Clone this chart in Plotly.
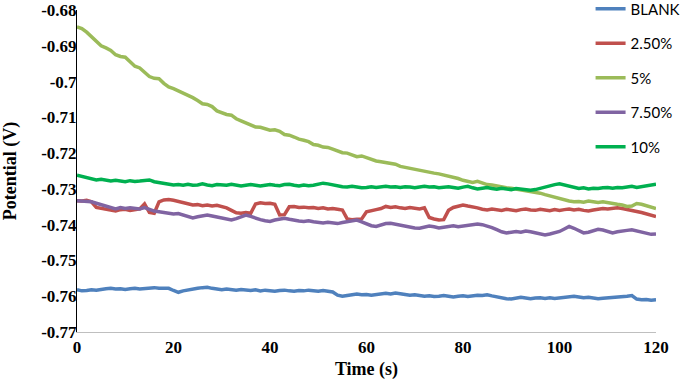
import plotly.graph_objects as go

time_s = list(range(0, 121))

blank = [-0.7582, -0.7585, -0.7584, -0.7582, -0.7583, -0.7580, -0.7579, -0.7578, -0.7580, -0.7579,
         -0.7581, -0.7579, -0.7578, -0.7580, -0.7579, -0.7577, -0.7576, -0.7578, -0.7577, -0.7578,
         -0.7584, -0.7589, -0.7585, -0.7582, -0.7580, -0.7578, -0.7576, -0.7575, -0.7578, -0.7580,
         -0.7582, -0.7580, -0.7582, -0.7583, -0.7581, -0.7583, -0.7584, -0.7582, -0.7585, -0.7583,
         -0.7584, -0.7586, -0.7584, -0.7583, -0.7585, -0.7586, -0.7584, -0.7585, -0.7583, -0.7585,
         -0.7586, -0.7584, -0.7586, -0.7588, -0.7597, -0.7600, -0.7598, -0.7596, -0.7594, -0.7596,
         -0.7595, -0.7597, -0.7596, -0.7594, -0.7592, -0.7594, -0.7591, -0.7593, -0.7595, -0.7597,
         -0.7596, -0.7598, -0.7600, -0.7599, -0.7601, -0.7600, -0.7598, -0.7600, -0.7602, -0.7600,
         -0.7599, -0.7601, -0.7599, -0.7597, -0.7598, -0.7596, -0.7599, -0.7602, -0.7605, -0.7607,
         -0.7608, -0.7605, -0.7603, -0.7605, -0.7607, -0.7605, -0.7604, -0.7606, -0.7604, -0.7606,
         -0.7605, -0.7603, -0.7601, -0.7600, -0.7602, -0.7604, -0.7603, -0.7605, -0.7607, -0.7606,
         -0.7605, -0.7603, -0.7604, -0.7602, -0.7600, -0.7598, -0.7608, -0.7610, -0.7609, -0.7611,
         -0.7610]

pct_2_5 = [-0.7333, -0.7334, -0.7332, -0.7336, -0.7352, -0.7355, -0.7356, -0.7360, -0.7362, -0.7358,
           -0.7357, -0.7360, -0.7358, -0.7356, -0.7342, -0.7366, -0.7368, -0.7336, -0.7331, -0.7330,
           -0.7332, -0.7335, -0.7338, -0.7342, -0.7345, -0.7344, -0.7347, -0.7345, -0.7348, -0.7346,
           -0.7350, -0.7353, -0.7360, -0.7367, -0.7368, -0.7366, -0.7368, -0.7342, -0.7339, -0.7341,
           -0.7340, -0.7343, -0.7373, -0.7372, -0.7350, -0.7349, -0.7352, -0.7351, -0.7353, -0.7352,
           -0.7355, -0.7353, -0.7356, -0.7355, -0.7357, -0.7359, -0.7384, -0.7386, -0.7385, -0.7384,
           -0.7364, -0.7360, -0.7358, -0.7355, -0.7349, -0.7352, -0.7350, -0.7353, -0.7355, -0.7352,
           -0.7354, -0.7356, -0.7353, -0.7380, -0.7384, -0.7387, -0.7386, -0.7360, -0.7352, -0.7348,
           -0.7345, -0.7348, -0.7350, -0.7353, -0.7357, -0.7359, -0.7356, -0.7358, -0.7360, -0.7357,
           -0.7359, -0.7361, -0.7358, -0.7356, -0.7359, -0.7360, -0.7357, -0.7359, -0.7361, -0.7358,
           -0.7360, -0.7358, -0.7356, -0.7359, -0.7357, -0.7360, -0.7362, -0.7359, -0.7357, -0.7355,
           -0.7356, -0.7354, -0.7353, -0.7355, -0.7357, -0.7360, -0.7363, -0.7366, -0.7370, -0.7374,
           -0.7377]

pct_5 = [-0.6847, -0.6852, -0.6862, -0.6874, -0.6886, -0.6900, -0.6906, -0.6913, -0.6925, -0.6930,
         -0.6932, -0.6944, -0.6957, -0.6962, -0.6975, -0.6986, -0.6991, -0.6992, -0.7005, -0.7015,
         -0.7020, -0.7026, -0.7032, -0.7037, -0.7045, -0.7053, -0.7062, -0.7064, -0.7070, -0.7082,
         -0.7087, -0.7092, -0.7094, -0.7104, -0.7110, -0.7115, -0.7121, -0.7127, -0.7128, -0.7133,
         -0.7136, -0.7135, -0.7139, -0.7148, -0.7150, -0.7155, -0.7161, -0.7164, -0.7168, -0.7176,
         -0.7178, -0.7183, -0.7184, -0.7189, -0.7195, -0.7199, -0.7200, -0.7205, -0.7210, -0.7208,
         -0.7213, -0.7216, -0.7222, -0.7224, -0.7227, -0.7230, -0.7231, -0.7237, -0.7240, -0.7241,
         -0.7245, -0.7249, -0.7250, -0.7253, -0.7256, -0.7258, -0.7261, -0.7265, -0.7268, -0.7271,
         -0.7276, -0.7278, -0.7282, -0.7279, -0.7283, -0.7288, -0.7289, -0.7292, -0.7295, -0.7297,
         -0.7298, -0.7300, -0.7302, -0.7305, -0.7307, -0.7309, -0.7312, -0.7316, -0.7320, -0.7324,
         -0.7328, -0.7331, -0.7334, -0.7336, -0.7335, -0.7337, -0.7334, -0.7336, -0.7338, -0.7336,
         -0.7339, -0.7341, -0.7343, -0.7345, -0.7349, -0.7348, -0.7341, -0.7343, -0.7347, -0.7352,
         -0.7355]

pct_7_5 = [-0.7333, -0.7334, -0.7333, -0.7336, -0.7340, -0.7344, -0.7349, -0.7353, -0.7356, -0.7352,
           -0.7355, -0.7353, -0.7354, -0.7356, -0.7352, -0.7357, -0.7362, -0.7364, -0.7366, -0.7368,
           -0.7370, -0.7369, -0.7373, -0.7377, -0.7381, -0.7378, -0.7376, -0.7373, -0.7376, -0.7379,
           -0.7382, -0.7385, -0.7387, -0.7383, -0.7378, -0.7373, -0.7377, -0.7382, -0.7386, -0.7389,
           -0.7391, -0.7387, -0.7384, -0.7382, -0.7385, -0.7388, -0.7390, -0.7391, -0.7389, -0.7392,
           -0.7394, -0.7395, -0.7393, -0.7396, -0.7397, -0.7394, -0.7391, -0.7388, -0.7387, -0.7392,
           -0.7398, -0.7403, -0.7405, -0.7401, -0.7397, -0.7396, -0.7399, -0.7402, -0.7405, -0.7407,
           -0.7409, -0.7410, -0.7407, -0.7404, -0.7406, -0.7409, -0.7407, -0.7405, -0.7403, -0.7406,
           -0.7404, -0.7402, -0.7400, -0.7398, -0.7400, -0.7403, -0.7408, -0.7414, -0.7420, -0.7423,
           -0.7421, -0.7419, -0.7421, -0.7418, -0.7420, -0.7423, -0.7426, -0.7429, -0.7426, -0.7422,
           -0.7419, -0.7412, -0.7405, -0.7410, -0.7417, -0.7423, -0.7421, -0.7418, -0.7413, -0.7415,
           -0.7420, -0.7423, -0.7420, -0.7417, -0.7416, -0.7414, -0.7417, -0.7420, -0.7424, -0.7427,
           -0.7426]

pct_10 = [-0.7262, -0.7265, -0.7270, -0.7272, -0.7275, -0.7273, -0.7276, -0.7278, -0.7276, -0.7278,
          -0.7280, -0.7277, -0.7279, -0.7278, -0.7276, -0.7275, -0.7280, -0.7282, -0.7285, -0.7286,
          -0.7289, -0.7288, -0.7290, -0.7287, -0.7290, -0.7289, -0.7286, -0.7289, -0.7291, -0.7288,
          -0.7289, -0.7290, -0.7287, -0.7289, -0.7292, -0.7290, -0.7288, -0.7290, -0.7292, -0.7290,
          -0.7288, -0.7290, -0.7291, -0.7288, -0.7287, -0.7290, -0.7292, -0.7289, -0.7291, -0.7290,
          -0.7287, -0.7284, -0.7286, -0.7289, -0.7292, -0.7294, -0.7295, -0.7293, -0.7295, -0.7297,
          -0.7296, -0.7294, -0.7296, -0.7295, -0.7293, -0.7295, -0.7294, -0.7296, -0.7294, -0.7295,
          -0.7297, -0.7295, -0.7293, -0.7295, -0.7294, -0.7297, -0.7295, -0.7294, -0.7296, -0.7298,
          -0.7295, -0.7293, -0.7297, -0.7300, -0.7298, -0.7296, -0.7299, -0.7301, -0.7298, -0.7300,
          -0.7302, -0.7299, -0.7301, -0.7303, -0.7304, -0.7302, -0.7298, -0.7294, -0.7290, -0.7288,
          -0.7286, -0.7289, -0.7293, -0.7297, -0.7299, -0.7297, -0.7300, -0.7298, -0.7299, -0.7297,
          -0.7296, -0.7298, -0.7296, -0.7297, -0.7295, -0.7293, -0.7296, -0.7294, -0.7292, -0.7290,
          -0.7287]

series_names = ["BLANK", "2.50%", "5%", "7.50%", "10%"]
series_values = [blank, pct_2_5, pct_5, pct_7_5, pct_10]
series_colors = ["#4F81BD", "#C0504D", "#9BBB59", "#8064A2", "#00B050"]

y_tickvals = [-0.68, -0.69, -0.70, -0.71, -0.72, -0.73, -0.74, -0.75, -0.76, -0.77]
y_ticktext = ["-0.68", "-0.69", "-0.7", "-0.71", "-0.72", "-0.73", "-0.74", "-0.75", "-0.76", "-0.77"]
x_tickvals = [0, 20, 40, 60, 80, 100, 120]

fig = go.Figure()
for name, vals, col in zip(series_names, series_values, series_colors):
    fig.add_trace(go.Scatter(
        x=time_s, y=vals, name=name, mode="lines",
        line=dict(color=col, width=3.5),
        legendgroup=name,
    ))

serif = "Liberation Serif, Times New Roman, serif"
fig.update_layout(
    width=680, height=386,
    margin=dict(l=77, r=24, t=10, b=54, autoexpand=False),
    paper_bgcolor="white", plot_bgcolor="white",
    showlegend=True,
    legend=dict(
        x=0.887, xanchor="left", y=1.054, yanchor="top",
        font=dict(family="Lato, Carlito, sans-serif", size=15, color="#000000"),
        bgcolor="rgba(0,0,0,0)", borderwidth=0,
        traceorder="grouped", tracegroupgap=12,
    ),
    xaxis=dict(
        range=[0, 120], tickvals=x_tickvals,
        showline=True, linecolor="#BFBFBF", linewidth=1,
        showgrid=False, zeroline=False, ticks="", ticklabelstandoff=0,
        tickfont=dict(family=serif, size=17, color="black", weight="bold"),
        title=dict(text="<b>Time (s)</b>", font=dict(family=serif, size=18, color="black"), standoff=5),
    ),
    yaxis=dict(
        range=[-0.77, -0.68], tickvals=y_tickvals, ticktext=y_ticktext,
        showline=True, linecolor="black", linewidth=1,
        showgrid=False, zeroline=False, ticks="", ticklabelstandoff=-4,
        tickfont=dict(family=serif, size=17, color="black", weight="bold"),
        title=dict(text="<b>Potential (V)</b>", font=dict(family=serif, size=18, color="black"), standoff=22),
    ),
)

fig.write_html("out.html", config={"displayModeBar": False},
               post_script="document.body.style.margin='0';document.body.style.padding='0';")
